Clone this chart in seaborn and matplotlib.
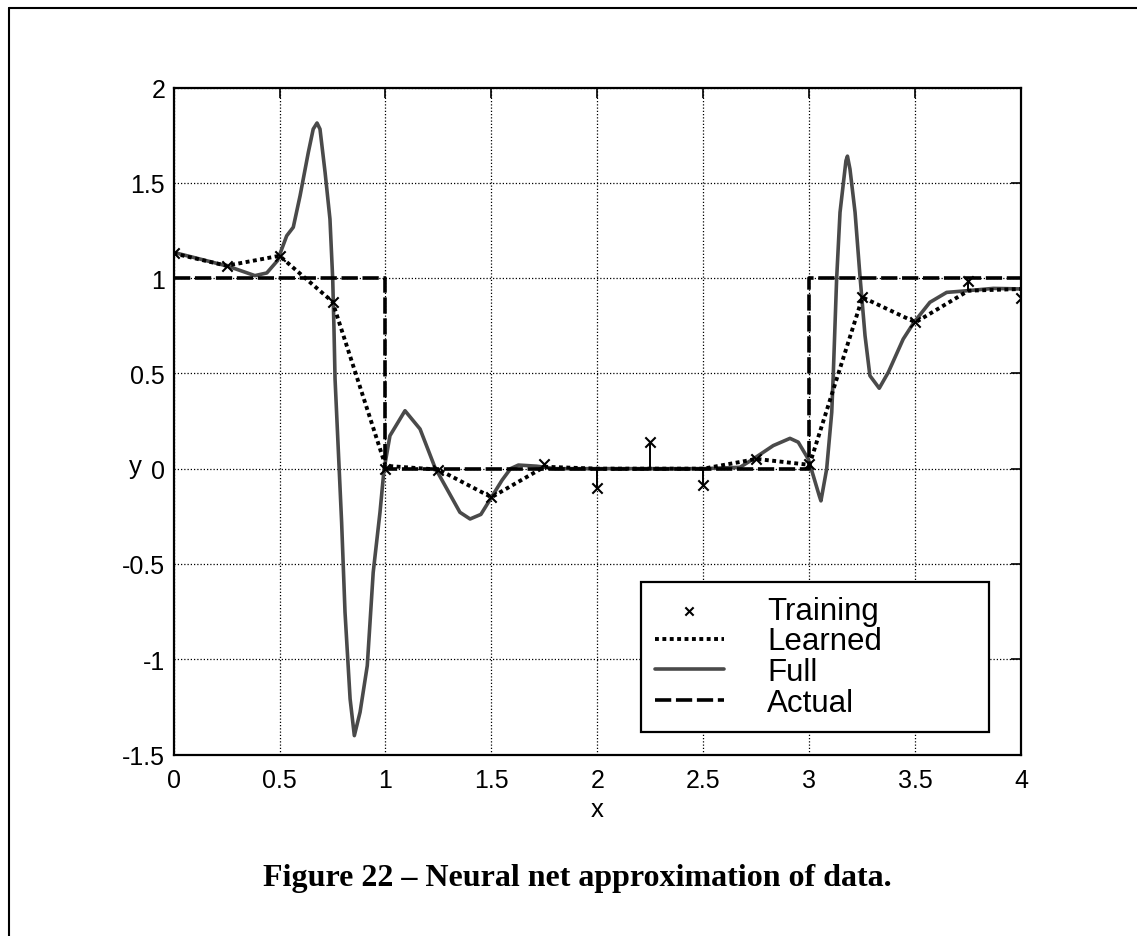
import matplotlib
matplotlib.use("Agg")
import matplotlib.pyplot as plt
from matplotlib.lines import Line2D
import pandas as pd
import seaborn as sns

# Training inputs and noisy targets
train_x = [0.0, 0.25, 0.5, 0.75, 1.0, 1.25, 1.5, 1.75, 2.0, 2.25, 2.5,
           2.75, 3.0, 3.25, 3.5, 3.75, 4.0]
train_y = [1.13, 1.065, 1.117, 0.876, 0.0, -0.005, -0.15, 0.025, -0.103,
           0.139, -0.086, 0.051, 0.025, 0.899, 0.768, 0.986, 0.894]

# Network output at the training inputs
learned_y = [1.13, 1.065, 1.117, 0.876, 0.015, -0.005, -0.15, 0.01, 0.0,
             0.0, 0.0, 0.051, 0.02, 0.899, 0.768, 0.934, 0.943]

# Network output on a fine grid
full_x = [0.0, 0.125, 0.258, 0.384, 0.44, 0.49, 0.534, 0.565, 0.597, 0.636,
          0.659, 0.677, 0.691, 0.715, 0.738, 0.751, 0.757, 0.762, 0.793,
          0.809, 0.833, 0.853, 0.88, 0.914, 0.942, 0.974, 0.993, 1.021,
          1.092, 1.163, 1.233, 1.351, 1.399, 1.45, 1.5, 1.55, 1.59, 1.627,
          1.713, 1.8, 2.0, 2.25, 2.5, 2.672, 2.735, 2.829, 2.908, 2.947,
          2.994, 3.018, 3.046, 3.054, 3.081, 3.105, 3.112, 3.128, 3.144,
          3.172, 3.179, 3.191, 3.215, 3.238, 3.262, 3.285, 3.329, 3.372,
          3.442, 3.493, 3.568, 3.647, 3.746, 3.867, 4.0]
full_y = [1.135, 1.1, 1.062, 1.013, 1.027, 1.091, 1.222, 1.267, 1.432, 1.66,
          1.782, 1.814, 1.782, 1.555, 1.31, 0.995, 0.733, 0.471, -0.281,
          -0.753, -1.208, -1.401, -1.278, -1.034, -0.544, -0.229, -0.005,
          0.173, 0.304, 0.208, 0.007, -0.229, -0.264, -0.24, -0.15, -0.06,
          0.0, 0.019, 0.013, 0.0, 0.0, 0.0, 0.0, 0.007, 0.051, 0.121, 0.159,
          0.139, 0.051, -0.037, -0.142, -0.169, -0.002, 0.296, 0.488, 0.995,
          1.345, 1.616, 1.64, 1.572, 1.345, 1.013, 0.698, 0.488, 0.422,
          0.506, 0.68, 0.768, 0.873, 0.925, 0.934, 0.946, 0.943]

# Target step function
actual_x = [0.0, 1.0, 1.0, 3.0, 3.0, 4.0]
actual_y = [1.0, 1.0, 0.0, 0.0, 1.0, 1.0]

x_ticks = [0, 0.5, 1, 1.5, 2, 2.5, 3, 3.5, 4]
x_tick_labels = ["0", "0.5", "1", "1.5", "2", "2.5", "3", "3.5", "4"]
y_ticks = [-1.5, -1, -0.5, 0, 0.5, 1, 1.5, 2]
y_tick_labels = ["-1.5", "-1", "-0.5", "0", "0.5", "1", "1.5", "2"]

sns.set_style("white")
plt.rcParams["font.family"] = ["Liberation Sans", "DejaVu Sans"]
plt.rcParams["axes.unicode_minus"] = False
plt.rcParams["text.color"] = "black"
plt.rcParams["axes.labelcolor"] = "black"
plt.rcParams["xtick.color"] = "black"
plt.rcParams["ytick.color"] = "black"

fig = plt.figure(figsize=(11.37, 9.37), dpi=100)
ax = fig.add_axes([0.1526, 0.1937, 0.7458, 0.7118])

train_df = pd.DataFrame({"x": train_x, "y": train_y})
learned_df = pd.DataFrame({"x": train_x, "y": learned_y})
full_df = pd.DataFrame({"x": full_x, "y": full_y})
actual_df = pd.DataFrame({"x": actual_x, "y": actual_y})

sns.lineplot(data=full_df, x="x", y="y", ax=ax, sort=False, estimator=None,
             color="#4a4a4a", lw=2.6, label="Full", zorder=2)
sns.lineplot(data=actual_df, x="x", y="y", ax=ax, sort=False, estimator=None,
             color="black", lw=2.6, linestyle=(0, (4.5, 1.3)),
             label="Actual", zorder=3)
sns.lineplot(data=learned_df, x="x", y="y", ax=ax, sort=False,
             estimator=None, color="black", lw=2.8,
             linestyle=(0, (1.0, 0.9)), label="Learned", zorder=4)
ax.vlines(train_x, learned_y, train_y, color="black", lw=1.4, zorder=4)
sns.scatterplot(data=train_df, x="x", y="y", ax=ax, marker="x", s=55,
                color="black", linewidth=1.5, label="Training", zorder=5)

ax.set_xlim(0, 4)
ax.set_ylim(-1.5, 2)
ax.set_xticks(x_ticks)
ax.set_xticklabels(x_tick_labels)
ax.set_yticks(y_ticks)
ax.set_yticklabels(y_tick_labels)
ax.tick_params(axis="both", direction="in", length=7, width=1.2,
               top=True, right=True, labelsize=18, colors="black")
ax.tick_params(axis="x", pad=10)
ax.tick_params(axis="y", pad=6)
ax.grid(True, color="black", linestyle=(0, (1, 1.6)), lw=0.9)
ax.set_axisbelow(True)
for sp in ax.spines.values():
    sp.set_visible(True)
    sp.set_color("black")
    sp.set_linewidth(1.6)

ax.set_xlabel("x", fontsize=18.5, labelpad=3)
ax.set_ylabel("y", fontsize=18.5, rotation=0, ha="center", va="center")
ax.yaxis.set_label_coords(-0.0454, 0.432)

handles, labels = ax.get_legend_handles_labels()
order = ["Training", "Learned", "Full", "Actual"]
hmap = dict(zip(labels, handles))
leg = ax.legend([hmap[k] for k in order], order, loc="upper left",
                bbox_to_anchor=(0.551, 0.259, 0.411, 0.0), mode="expand",
                fontsize=22.5, frameon=True, fancybox=False, shadow=False,
                framealpha=1, edgecolor="black", borderpad=0.45,
                labelspacing=0.02, handlelength=2.2, handletextpad=1.4,
                borderaxespad=0.0, markerscale=0.8)
leg.get_frame().set_linewidth(1.6)

fig.text(0.508, 0.062, "Figure 22 \u2013 Neural net approximation of data.",
         ha="center", va="center", fontsize=23, fontweight="bold",
         family=["Liberation Serif", "DejaVu Serif"])

# Page frame along the top and left edges
fig.add_artist(Line2D([0.008, 1.0], [0.990, 0.990], color="black", lw=1.5,
                      transform=fig.transFigure))
fig.add_artist(Line2D([0.008, 0.008], [0.0, 0.990], color="black", lw=1.5,
                      transform=fig.transFigure))

fig.savefig("out.png", dpi=100)
